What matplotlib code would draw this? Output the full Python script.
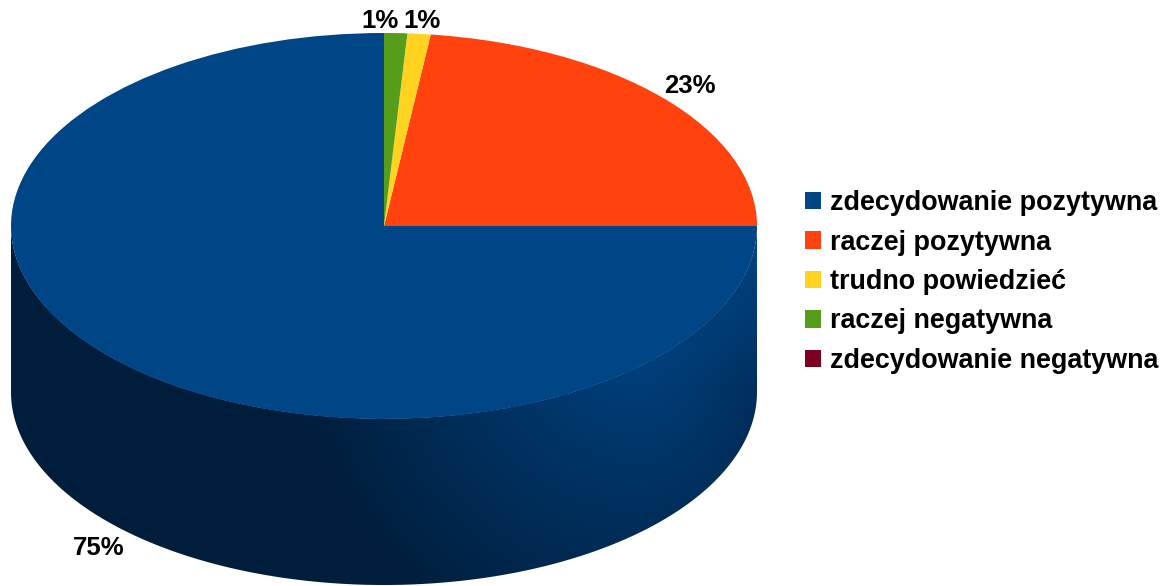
import numpy as np
import matplotlib
matplotlib.use("Agg")
import matplotlib.pyplot as plt
from matplotlib.colors import LinearSegmentedColormap
from matplotlib.patches import Patch

categories = ["zdecydowanie pozytywna", "raczej pozytywna", "trudno powiedzieć",
              "raczej negatywna", "zdecydowanie negatywna"]
values = [75, 23, 1, 1, 0]
labels = ["75%", "23%", "1%", "1%"]
colors = ["#004586", "#ff420e", "#ffd320", "#579d1c", "#7e0021"]

W, H = 1165, 586
CX, CY, RX, RY, DEPTH = 384, 226, 373, 193, 166
plt.rcParams["font.family"] = ["Liberation Sans", "DejaVu Sans"]
plt.rcParams["font.weight"] = "bold"

fig = plt.figure(figsize=(W / 100, H / 100), dpi=100)
ax = fig.add_axes([0, 0, 1, 1])

wedges, _ = ax.pie(values, colors=colors, startangle=90, counterclock=True, radius=1,
                   wedgeprops=dict(linewidth=0), frame=True)
ax.set_aspect("auto")
ax.set_xlim(-CX / RX, (W - CX) / RX)
ax.set_ylim((CY - H) / RY, CY / RY)
ax.axis("off")

# side wall of the blue slice
t = np.linspace(np.pi, 2 * np.pi, 400)
depth = DEPTH / RY
side = ax.fill_between(np.cos(t), np.sin(t) + 0.002, np.sin(t) - depth, color="none", linewidth=0, zorder=1)

px, py = np.meshgrid(np.arange(W) + .5, np.arange(H) + .5)
dx = np.where(px < 640, (px - 640) / 350, (px - 640) / 230 * np.clip((py - 226) / 154, 0, 1))
dy = (py - 300) / 380
shade = np.clip(np.hypot(dx, np.maximum(dy, 0)), 0, 1)
cmap = LinearSegmentedColormap.from_list("side", ["#004586", "#001e3c"])
im = ax.imshow(shade, cmap=cmap, vmin=0, vmax=1, aspect="auto", zorder=1, interpolation="bilinear",
               extent=[-CX / RX, (W - CX) / RX, (CY - H) / RY, CY / RY], origin="upper")
im.set_clip_path(side.get_paths()[0], transform=ax.transData)
ax.set_xlim(-CX / RX, (W - CX) / RX)
ax.set_ylim((CY - H) / RY, CY / RY)
for w in wedges:
    w.set_zorder(2)

def P(x, y):
    return (x - CX) / RX, (CY - y) / RY

label_xy = [(99, 548), (690, 86), (380, 21), (422, 21)]
for s, (x, y) in zip(labels, label_xy):
    ax.text(*P(x, y), s, ha="center", va="center", fontsize=18.5, fontweight="bold", color="black", zorder=3)

handles = [Patch(facecolor=c, linewidth=0) for c in colors]
leg = ax.legend(handles, categories, loc="center left", bbox_to_anchor=(805 / W, 1 - 282 / H),
                frameon=False, fontsize=19.4, handlelength=0.6, handleheight=0.6,
                handletextpad=0.33, labelspacing=0.5, borderpad=0, borderaxespad=0)

fig.savefig("out.png", dpi=100)
